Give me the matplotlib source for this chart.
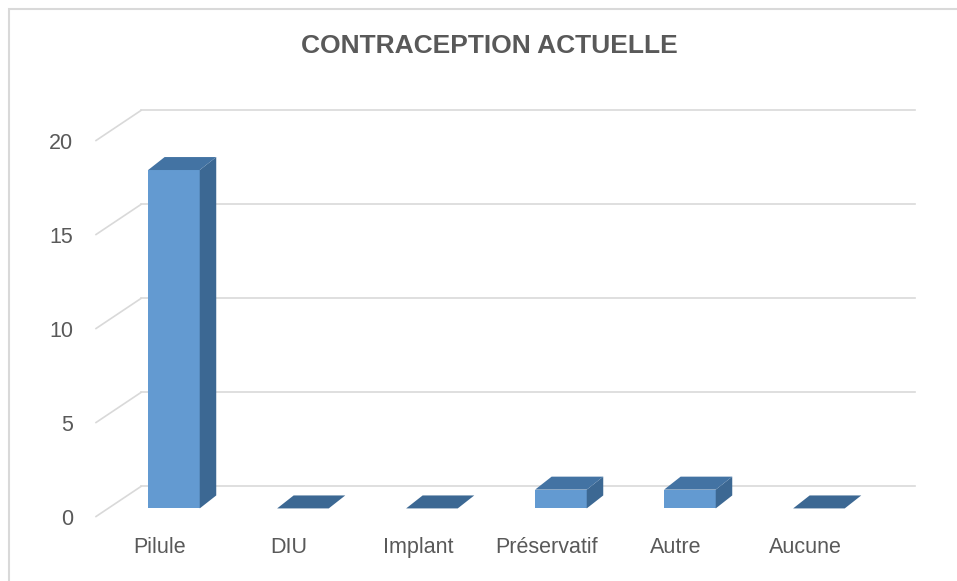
import matplotlib.pyplot as plt
from matplotlib.patches import Polygon, Rectangle

categories = ["Pilule", "DIU", "Implant", "Préservatif", "Autre", "Aucune"]
values = [18, 0, 0, 1, 1, 0]
yticks = [0, 5, 10, 15, 20]

FRONT = "#639AD1"
SIDE = "#3C6893"
TOP = "#4373A3"
GRID = "#D9D9D9"
TXT = "#595959"

plt.rcParams["font.family"] = ["Liberation Sans", "DejaVu Sans"]

# pseudo-3D geometry (data units)
bar_w = 0.40
shift_x, shift_y = 0.108, 0.43      # bar front face vs front plane
depth_x, depth_y = 0.128, 0.69      # bar depth
wall_x, wall_y = 0.349, 1.60        # floor / side wall depth
left_front = -0.496
right_back = 5.853

fig = plt.figure(figsize=(9.57, 5.81), dpi=100)
W, H = 957, 581
ax = fig.add_axes([90 / W, (H - 530) / H, 867 / W, 510 / H])
ax.set_xlim(-0.5426, 6.1783)
ax.set_ylim(-0.718, 26.41)
for s in ax.spines.values():
    s.set_visible(False)
ax.set_facecolor("none")

# gridlines: diagonal on the side wall, then along the back wall
for v in yticks:
    ax.plot([left_front, left_front + wall_x], [v, v + wall_y], color=GRID, lw=1.2, zorder=1,
            clip_on=False)
    ax.plot([left_front + wall_x, right_back], [v + wall_y, v + wall_y], color=GRID, lw=1.2,
            zorder=1, clip_on=False)

xs = [i + shift_x for i in range(len(categories))]
ax.bar(xs, values, width=bar_w, bottom=shift_y, color=FRONT, zorder=3)
for x, v in zip(xs, values):
    xl, xr = x - bar_w / 2, x + bar_w / 2
    b, t = shift_y, shift_y + v
    if v > 0:
        ax.add_patch(Polygon([(xr, b), (xr + depth_x, b + depth_y), (xr + depth_x, t + depth_y), (xr, t)],
                             closed=True, fc=SIDE, ec="none", zorder=3))
    ax.add_patch(Polygon([(xl, t), (xl + depth_x, t + depth_y), (xr + depth_x, t + depth_y), (xr, t)],
                         closed=True, fc=TOP if v > 0 else SIDE, ec="none", zorder=4))

ax.set_xticks(range(len(categories)))
ax.set_xticklabels(categories)
ax.set_yticks(yticks)
ax.set_yticklabels([str(v) for v in yticks])
ax.tick_params(axis="x", length=0, pad=5, labelsize=15.5, labelcolor=TXT)
ax.tick_params(axis="y", length=0, pad=12, labelsize=15.5, labelcolor=TXT)

fig.text(489.5 / W, 1 - 46 / H, "CONTRACEPTION ACTUELLE", ha="center", va="center",
         fontsize=19, fontweight="bold", color=TXT)
fig.add_artist(Rectangle((9 / W, -0.1), 1.2, (H - 9) / H + 0.1, transform=fig.transFigure,
                         fill=False, ec=GRID, lw=1.5))

fig.savefig("out.png", dpi=100)
